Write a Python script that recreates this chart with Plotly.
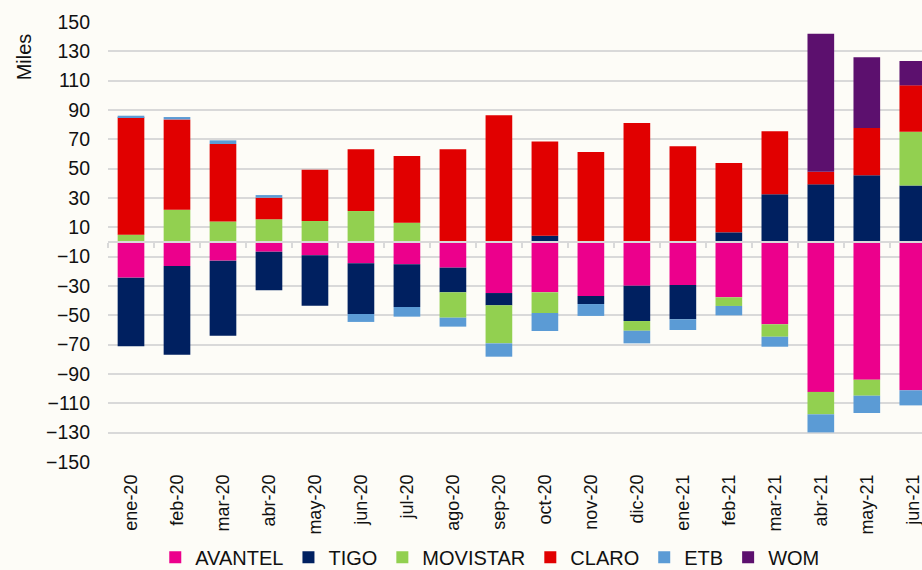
import plotly.graph_objects as go

categories = ["ene-20", "feb-20", "mar-20", "abr-20", "may-20", "jun-20", "jul-20", "ago-20",
              "sep-20", "oct-20", "nov-20", "dic-20", "ene-21", "feb-21", "mar-21", "abr-21",
              "may-21", "jun-21"]

avantel = [-24.3, -16.4, -12.7, -6.6, -9.1, -14.5, -15.2, -17.5, -34.8, -34.3, -36.8, -29.8,
           -29.3, -37.7, -56.1, -102.2, -93.9, -101.1]
tigo = [-46.8, -60.4, -51.2, -26.3, -34.3, -34.6, -29.1, -16.8, -8.4, 4.3, -5.5, -24.1,
        -23.4, 6.6, 32.5, 39.3, 45.5, 38.6]
movistar = [5.0, 22.0, 14.0, 15.5, 14.3, 21.1, 13.2, -17.3, -25.9, -14.1, 0, -6.6,
            0, -5.9, -8.5, -15.3, -10.9, 36.6]
claro = [80.0, 61.6, 52.8, 14.7, 35.0, 42.1, 45.4, 63.2, 86.4, 64.3, 61.3, 81.1,
         65.2, 47.3, 43.0, 8.6, 32.2, 31.6]
etb = [1.1, 1.6, 2.5, 1.8, 0, -5.4, -6.6, -6.1, -9.1, -12.3, -8.1, -8.6,
       -7.3, -6.4, -6.8, -12.3, -11.8, -10.3]
wom = [None] * 15 + [94.1, 48.2, 16.6]

series = [
    ("AVANTEL", avantel, "#EC008C"),
    ("TIGO", tigo, "#002060"),
    ("MOVISTAR", movistar, "#92D050"),
    ("CLARO", claro, "#E10000"),
    ("ETB", etb, "#5B9BD5"),
    ("WOM", wom, "#5C106E"),
]

y_ticks = list(range(-150, 151, 20))

FONT = "Liberation Sans, Arial, sans-serif"
BG = "#fdfcf7"
GRID = "#d9d9d9"

fig = go.Figure()
for name, vals, color in series:
    fig.add_trace(go.Bar(x=categories, y=vals, name=name, marker_color=color,
                         marker_line_width=0))

# boundary ticks on the zero line
n = len(categories)
bounds = [i - 0.5 for i in range(n + 1)]
fig.add_trace(go.Scatter(x=bounds, y=[0] * len(bounds), xaxis="x2", yaxis="y",
                         mode="markers", marker=dict(opacity=0), showlegend=False,
                         hoverinfo="skip"))

xr = [-0.5, 17.2]
fig.update_layout(
    width=922, height=570,
    margin=dict(l=108, r=0, t=22, b=108, autoexpand=False),
    paper_bgcolor=BG, plot_bgcolor=BG,
    barmode="relative", bargap=0.42,
    font=dict(family=FONT, size=18, color="#111111"),
    showlegend=True,
    legend=dict(orientation="h", x=0.469, xanchor="center", yref="paper",
                y=-0.172, yanchor="top", font=dict(size=20), traceorder="normal",
                bgcolor="rgba(0,0,0,0)", itemwidth=30),
    xaxis=dict(type="category", range=xr, showgrid=False, ticks="", tickangle=-90,
               tickfont=dict(size=18), showline=False, zeroline=False,
               ticklabelstandoff=8, automargin=False),
    xaxis2=dict(type="linear", overlaying="x", anchor="free", position=0.5, range=xr,
                tickvals=bounds, ticks="outside", ticklen=5, tickwidth=2, tickcolor=GRID,
                showticklabels=False, showgrid=False, zeroline=False, showline=True,
                linecolor=GRID, linewidth=2, layer="above traces", automargin=False),
    yaxis=dict(range=[-150, 150], tickvals=y_ticks, showgrid=True, gridcolor=GRID,
               gridwidth=2, zeroline=False, showline=False, ticks="",
               tickfont=dict(size=19.5), ticklabelstandoff=17, automargin=False),
    annotations=[dict(text="Miles", xref="paper", yref="paper", x=-0.103, y=0.92,
                      xanchor="center", yanchor="middle", textangle=-90, showarrow=False,
                      font=dict(size=20, family=FONT))],
)

fig.write_html("out.html", config={"displayModeBar": False},
               post_script="document.body.style.margin='0';document.body.style.background='#fdfcf7';")
